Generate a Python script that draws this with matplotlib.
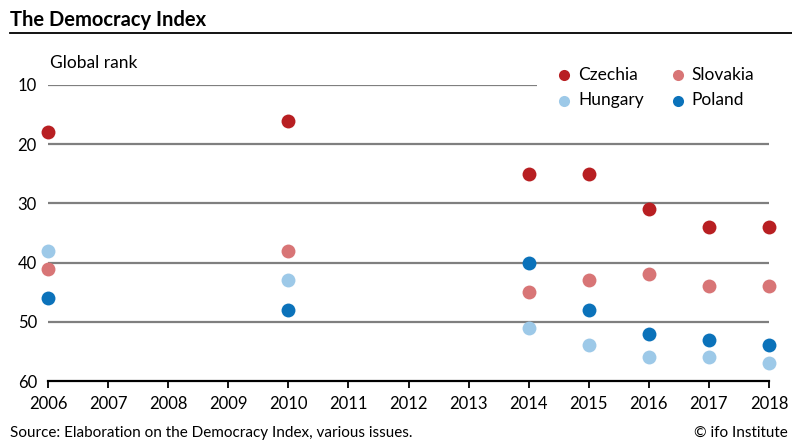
import matplotlib
matplotlib.use('Agg')
import matplotlib.pyplot as plt
import matplotlib.patches as mpatches
import numpy as np

plt.rcParams['font.family'] = ['Lato', 'DejaVu Sans']

# data: global rank by year
years = [2006, 2010, 2014, 2015, 2016, 2017, 2018]
czechia = [18, 16, 25, 25, 31, 34, 34]
slovakia = [41, 38, 45, 43, 42, 44, 44]
hungary = [38, 43, 51, 54, 56, 56, 57]
poland = [46, 48, 40, 48, 52, 53, 54]

series = [('Czechia', czechia, '#b81f22'),
          ('Slovakia', slovakia, '#d87576'),
          ('Hungary', hungary, '#9dc9e8'),
          ('Poland', poland, '#0b72ba')]

yticks = [10, 20, 30, 40, 50, 60]
xticks = list(range(2006, 2019))

fig = plt.figure(figsize=(7.92, 4.41), dpi=100)
ax = fig.add_axes([48/792, 1-381/441, (769-48)/792, (381-85)/441])

# gridlines
for y in yticks[:-1]:
	ax.axhline(y, color='#7f7f7f', lw=1.6, zorder=1)

handles = {}
for name, vals, col in series:
	handles[name] = ax.scatter(years, vals, s=100, color=col, label=name, zorder=3, clip_on=False, linewidths=0)

ax.set_xlim(2006, 2018)
ax.set_ylim(60, 10)
ax.set_xticks(xticks)
ax.set_xticklabels([str(x) for x in xticks], fontsize=12)
ax.set_yticks(yticks)
ax.set_yticklabels([str(y) for y in yticks], fontsize=12)
ax.tick_params(axis='y', length=0, pad=8)
ax.tick_params(axis='x', length=5, width=1.3, direction='out', pad=6, color='black')
for s in ['top', 'right', 'left']:
	ax.spines[s].set_visible(False)
ax.spines['bottom'].set_linewidth(1.6)
ax.spines['bottom'].set_color('black')

# white box behind legend (covers the gridline)
fig.add_artist(mpatches.Rectangle((537/792, 1-115/441), 255/792, 60/441,
		transform=fig.transFigure, facecolor='white', edgecolor='none', zorder=2))

order = ['Czechia', 'Hungary', 'Slovakia', 'Poland']
leg = fig.legend([handles[n] for n in order], order, ncol=2, loc='upper left',
		bbox_to_anchor=(545/792, 1-58/441), frameon=False, fontsize=12.5,
		handletextpad=0.2, columnspacing=1.35, borderpad=0.0, labelspacing=0.55,
		handlelength=1.2, scatterpoints=1, markerscale=0.8)
leg.set_zorder(5)

fig.text(50/792, 1-63/441, 'Global rank', fontsize=12.5, va='center', ha='left')

# title
fig.text(10/792, 1-20/441, 'The Democracy Index', fontsize=14.5, fontweight='bold', va='center', ha='left')
fig.add_artist(plt.Line2D([10/792, 1.0], [1-33/441, 1-33/441], color='black', lw=1.3))

# footer
fig.text(10/792, 1-433/441, 'Source: Elaboration on the Democracy Index, various issues.', fontsize=11, va='center', ha='left')
fig.text(788/792, 1-433/441, '\u00a9 ifo Institute', fontsize=11, va='center', ha='right')

fig.savefig('out.png', dpi=100)
